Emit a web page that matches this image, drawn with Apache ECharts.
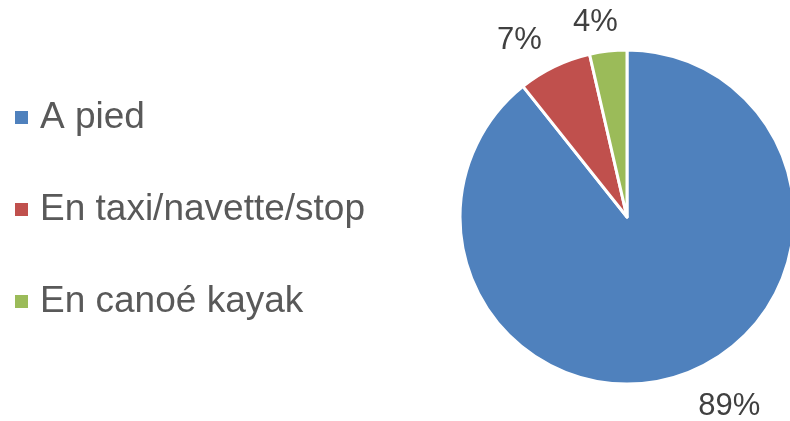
<!DOCTYPE html>
<html>
<head>
<meta charset="utf-8">
<script src="https://cdn.jsdelivr.net/npm/echarts@6/dist/echarts.min.js"></script>
<style>
  html, body { margin: 0; padding: 0; background: #fff; }
  #chart { width: 790px; height: 421px; }
</style>
</head>
<body>
<div id="chart"></div>
<script>
// données
var categories = ['A pied', 'En taxi/navette/stop', 'En canoé kayak'];
var values = [89.3, 7.1, 3.6];
var colors = ['#4F81BD', '#C0504D', '#9BBB59'];

var myChart = echarts.init(document.getElementById('chart'));

// petites parts : étiquettes rapprochées comme dans Excel
var labelTweaks = [
    { length: 34, dist: 5 },
    { length: 29, dist: 0 },
    { length: 29, dist: -13 }
];

var pieData = categories.map(function (name, i) {
    return {
        name: name,
        value: values[i],
        itemStyle: { color: colors[i] },
        label: { distanceToLabelLine: labelTweaks[i].dist },
        labelLine: { length: labelTweaks[i].length }
    };
});

option = {
    animation: false,
    legend: {
        orient: 'vertical',
        left: 8,
        top: 94,
        itemWidth: 15,
        itemHeight: 15,
        itemGap: 55,
        icon: 'rect',
        data: categories,
        textStyle: {
            fontFamily: 'Liberation Sans, Arial, sans-serif',
            fontSize: 37,
            lineHeight: 36,
            color: '#595959',
            padding: [0, 0, 0, 6]
        }
    },
    series: [
        {
            type: 'pie',
            center: [627, 217],
            radius: 167,
            startAngle: 90,
            clockwise: true,
            avoidLabelOverlap: false,
            itemStyle: { borderColor: '#fff', borderWidth: 3 },
            label: {
                show: true,
                position: 'outside',
                fontFamily: 'Liberation Sans, Arial, sans-serif',
                fontSize: 31,
                color: '#404040',
                formatter: function (p) { return Math.round(p.percent) + '%'; }
            },
            labelLine: { show: false, length: 34, length2: 0 },
            data: pieData
        }
    ]
};
// afficher le graphique
myChart.setOption(option);
</script>
</body>
</html>
